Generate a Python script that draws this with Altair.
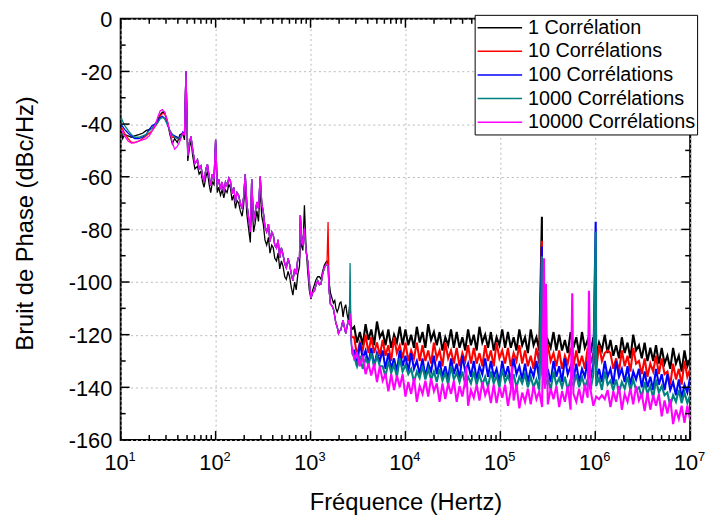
import altair as alt
import pandas as pd

names = ["1 Corrélation", "10 Corrélations", "100 Corrélations", "1000 Corrélations", "10000 Corrélations"]
colors = ["#000000", "#ff0000", "#0000ff", "#008080", "#ff00ff"]

# ---- 10 Hz .. 47 Hz ----
start_f = [10, 10.5, 11, 12, 13, 14, 15.5, 17, 18.5, 20, 21.5, 23, 24.5, 26, 27.5, 29, 31, 33, 35, 37, 39.5, 42, 45, 47]
start_black = [-40.5, -45.5, -44, -44.5, -45, -44.5, -44, -43.5, -42.5, -42, -41.5, -40, -38.5, -36.5, -35.5, -35.5, -39, -44, -47.5, -45.5, -47, -44, -43.5, -46]
start_red = [-41, -42, -43.5, -45.5, -47, -47, -46.5, -45.5, -44.5, -43.5, -42.5, -41, -39.5, -37, -36, -36, -39.5, -43, -45, -45, -45, -46, -43.5, -44]
start_blue = [-40, -41, -42, -43.5, -44.5, -45.5, -45.5, -45, -44, -42, -40.5, -40, -39, -37.5, -37, -37.8, -40, -42.5, -44, -44.5, -45, -45.5, -43, -43.5]
start_teal = [-37, -39, -40.5, -42.5, -44, -45, -45, -44.5, -44, -42.5, -41.5, -40.5, -39.5, -38, -37.5, -38, -40, -42.5, -44, -45, -45.5, -45, -44, -43.5]
start_magenta = [-42, -43, -44.5, -46.5, -47.2, -47, -46.5, -46, -45.5, -44.5, -42.5, -40.5, -37.5, -35, -34.5, -35.5, -38.5, -43, -47, -49.5, -48.5, -46.5, -43.5, -44]

# ---- 48.7 Hz .. 2.73 kHz ----
mid_f = [48.7, 50.9, 53, 55, 57.3, 60.5, 64.4, 67, 70, 73,
         75.6, 79, 82, 85.5, 88.8, 92.5, 96.2, 100, 104, 108,
         112.6, 117, 122, 127, 132, 138, 143, 149, 155, 162,
         168, 175, 182, 190, 197, 205, 213, 223, 232, 240,
         251, 260, 272, 283, 295, 306, 318, 331, 345, 360,
         374, 390, 405, 420, 438, 455, 474, 493, 513, 535,
         556, 580, 602, 627, 652, 680, 706, 735, 765, 781,
         800, 830, 862, 895, 934, 970, 1011, 1055, 1100, 1145,
         1190, 1240, 1290, 1340, 1400, 1450, 1490, 1530, 1570, 1620,
         1680, 1740, 1800, 1850, 1910, 1970, 2030, 2090, 2150, 2200,
         2270, 2350, 2420, 2500, 2560, 2610, 2670, 2730]
mid_common = [-19.8, -52, -47, -44.7, -49.7, -55, -53.5, -57, -55.9, -60,
              -62, -57, -55.3, -60, -63.4, -59, -60.9, -46, -63.4, -61,
              -64.7, -62, -65.9, -62, -63.4, -60.5, -61.5, -66.5, -64, -69.6,
              -66, -67.1, -70, -72.1, -68, -59.1, -70, -75.9, -80.9, -61,
              -77.1, -74, -69.6, -72, -59.9, -70, -73.4, -79, -80.9, -78,
              -84.6, -81, -82.1, -86, -87.1, -84, -90.8, -87, -89.6, -93,
              -94.6, -91, -93.3, -97, -99.5, -95, -97, -91, -90.8, -74.6,
              -82, -86, -79.6, -88, -92.1, -100, -106, -104, -103.3, -101,
              -99.5, -101, -100.8, -97, -94.6, -93.5, -93.3, -94, -103, -108.3,
              -109, -110.1, -113, -115.7, -117, -119.5, -118.5, -118.2, -116, -114.5,
              -117, -119.5, -117, -114.5, -116, -112, -120, -124.5]
mid_black = [-20, -54, -49, -46, -52, -57, -56, -59, -58, -62,
             -64, -60, -58, -63, -66, -62, -63, -48, -66, -64,
             -67, -65, -68, -65, -66, -63, -64, -69, -67, -72,
             -69, -70, -73, -75, -71, -63, -74, -80, -85, -66,
             -81, -78, -73, -77, -64, -75, -78, -84, -86, -83,
             -89, -86, -87, -91, -92, -89, -95, -92, -94, -98,
             -99, -96, -98, -102, -105, -100, -103, -97, -94, -84,
             -86, -88, -70.8, -86, -96, -103, -106.5, -103, -101, -99,
             -98, -98, -99, -96, -93.5, -92.5, -92, -93, -100, -104,
             -106, -108, -107, -110, -111.4, -110, -108, -107.6, -110, -113.3,
             -110, -108.6, -112, -114.5, -110, -108, -116, -118]
mid_over = {
    "10 Corrélations": {1530: -77.2, 2610: -115, 2670: -118, 2730: -121},
    "100 Corrélations": {2670: -122, 2730: -126},
    "1000 Corrélations": {2610: -92.8, 2670: -121, 2730: -127},
}

# ---- 2.9 kHz .. 10 MHz (log10 of frequency) ----
hi_exp = [3.46, 3.49, 3.52, 3.55, 3.58, 3.61, 3.64, 3.67, 3.70, 3.73,
          3.76, 3.79, 3.82, 3.85, 3.88, 3.91, 3.94, 3.97, 4.00, 4.03,
          4.06, 4.09, 4.12, 4.15, 4.18, 4.21, 4.24, 4.27, 4.30, 4.33,
          4.36, 4.39, 4.42, 4.45, 4.48, 4.51, 4.54, 4.57, 4.60, 4.63,
          4.66, 4.69, 4.72, 4.75, 4.78, 4.81, 4.84, 4.87, 4.90, 4.93,
          4.96, 4.99, 5.02, 5.05, 5.08, 5.11, 5.14, 5.17, 5.20, 5.23,
          5.26, 5.29, 5.32, 5.35, 5.38, 5.41, 5.44, 5.47, 5.50, 5.53,
          5.56, 5.59, 5.62, 5.65, 5.68, 5.71, 5.74, 5.77, 5.80, 5.83,
          5.86, 5.89, 5.92, 5.95, 5.98, 6.01, 6.04, 6.07, 6.10, 6.13,
          6.16, 6.19, 6.22, 6.25, 6.28, 6.31, 6.34, 6.37, 6.40, 6.43,
          6.46, 6.49, 6.52, 6.55, 6.58, 6.61, 6.64, 6.67, 6.70, 6.73,
          6.76, 6.79, 6.82, 6.85, 6.88, 6.91, 6.94, 6.97, 7.00]
hi_black = [-117, -123, -119, -124, -116, -122, -118, -124, -115, -121,
            -119, -124, -118, -125, -120, -123, -117, -124, -118, -124,
            -120, -125, -117, -123, -119, -125, -116, -122, -119, -124,
            -119, -126, -121, -124, -118, -125, -119, -125, -121, -126,
            -118, -124, -120, -126, -117, -123, -120, -125, -119, -126,
            -121, -124, -118, -125, -119, -125, -121, -126, -118, -124,
            -121, -127, -118, -124, -121, -126, -120, -127, -122, -125,
            -119, -126, -120, -126, -122, -127, -119, -125, -121, -127,
            -119, -125, -122, -127, -121, -128, -123, -126, -120, -127,
            -122, -128, -124, -129, -121, -127, -123, -129, -120, -126,
            -124, -129, -123, -130, -125, -130, -124, -131, -125, -131,
            -128, -133, -125, -131, -128, -134, -126, -132, -129]
hi_red = [-121, -128, -123, -126, -120, -127, -121, -127, -123, -128,
          -122, -128, -124, -130, -121, -127, -124, -129, -123, -130,
          -126, -129, -123, -130, -124, -130, -126, -131, -123, -129,
          -126, -132, -123, -129, -126, -131, -125, -132, -127, -130,
          -124, -131, -125, -131, -127, -132, -124, -130, -126, -132,
          -123, -129, -126, -131, -125, -132, -127, -130, -124, -131,
          -126, -132, -128, -133, -125, -131, -127, -133, -124, -130,
          -127, -132, -126, -133, -128, -131, -125, -132, -126, -132,
          -128, -133, -125, -131, -127, -133, -124, -130, -127, -126,
          -127, -133, -129, -134, -126, -132, -128, -134, -125, -131,
          -130, -135, -129, -136, -131, -134, -128, -135, -129, -135,
          -134, -139, -131, -137, -133, -139, -130, -136, -133]
hi_blue = [-126, -132, -123, -129, -126, -131, -125, -132, -127, -130,
           -126, -133, -127, -133, -129, -134, -126, -132, -128, -134,
           -127, -133, -130, -135, -129, -136, -131, -134, -128, -135,
           -130, -136, -132, -137, -129, -135, -131, -137, -128, -134,
           -131, -136, -130, -137, -132, -135, -129, -136, -130, -136,
           -133, -138, -130, -136, -132, -138, -129, -135, -132, -137,
           -131, -138, -133, -136, -130, -137, -131, -137, -133, -138,
           -130, -136, -132, -138, -129, -135, -132, -137, -131, -138,
           -133, -136, -130, -137, -131, -137, -133, -138, -130, -136,
           -133, -139, -130, -136, -133, -138, -132, -139, -134, -137,
           -133, -140, -134, -140, -136, -141, -133, -139, -135, -141,
           -135, -141, -138, -143, -137, -144, -139, -142, -136]
hi_teal = [-128.5, -132, -128, -133, -129, -131.5, -127, -132, -128, -132,
           -132, -136, -130, -134.5, -131.5, -136, -129, -134, -131.5, -135,
           -133, -138, -134, -136.5, -132, -137, -133, -137, -134, -138,
           -133, -137.5, -134.5, -139, -132, -137, -134.5, -138, -134, -139,
           -136, -138.5, -134, -139, -135, -139, -136, -140, -134, -138.5,
           -135.5, -140, -133, -138, -135.5, -139, -135, -140, -136, -138.5,
           -135, -140, -136, -140, -137, -141, -135, -139.5, -136.5, -141,
           -134, -139, -136.5, -140, -136, -141, -137, -139.5, -135, -140,
           -136, -140, -137, -141, -135, -139.5, -136.5, -141, -134, -139,
           -137.5, -141, -137, -142, -138, -140.5, -136, -141, -137, -141,
           -140, -144, -138, -142.5, -139.5, -144, -137, -142, -139.5, -143,
           -142, -147, -143, -145.5, -141, -146, -142, -146, -143]
hi_magenta = [-129, -127, -132, -128, -135, -131, -135.5, -131, -138, -132,
              -137.5, -135, -141.5, -135, -141, -135.5, -140, -135, -143.5, -138,
              -142.5, -136.5, -145.5, -139.5, -142.5, -137.5, -143.5, -136.5, -141.5, -138.5,
              -145.5, -138.5, -144.5, -138.5, -142.5, -137.5, -145.5, -139.5, -143.5, -137.5,
              -147, -141, -144, -139, -145, -138, -143, -140, -146, -139,
              -146, -140, -144, -139, -147, -141, -145, -139, -148, -142,
              -145.5, -140.5, -146.5, -139.5, -144.5, -141.5, -147.5, -140.5, -146.5, -140.5,
              -144.5, -139.5, -147.5, -141.5, -145.5, -139.5, -148.5, -142.5, -145.5, -140.5,
              -146, -139, -144, -141, -147, -143.5, -144.5, -143, -144.5, -141,
              -147.5, -141.5, -145.5, -139.5, -148.5, -142.5, -145.5, -140.5, -146.5, -139.5,
              -145, -142.5, -149, -142, -148.5, -143, -147, -142.5, -151, -145,
              -150, -144.5, -154, -148.5, -152, -147, -153.5, -147, -152.5]

# ---- narrow spurs (Hz, dBc/Hz) ----
spikes = {
    "1 Corrélation": [(274000, -75.2)],
    "10 Corrélations": [(274000, -84.3)],
    "100 Corrélations": [(274000, -86.5), (1010000, -77.1)],
    "1000 Corrélations": [(274000, -90.2), (1010000, -80.9)],
    "10000 Corrélations": [(43600, -132), (132000, -132), (288000, -91), (302000, -100.7),
                           (572000, -104.3), (858000, -103.3)],
}

starts = dict(zip(names, [start_black, start_red, start_blue, start_teal, start_magenta]))
mids = dict(zip(names, [mid_black, mid_common, mid_common, mid_common, mid_common]))
his = dict(zip(names, [hi_black, hi_red, hi_blue, hi_teal, hi_magenta]))

lo_rows, hi_rows = [], []
for name in names:
    over = mid_over.get(name, {})
    lo = list(zip(start_f, starts[name]))
    lo += [(f, over.get(f, v)) for f, v in zip(mid_f, mids[name])]
    hi = [lo[-1]] + [(10 ** e, v) for e, v in zip(hi_exp, his[name])] + spikes.get(name, [])
    hi.sort()
    lo_rows += [{"f": f, "v": v, "s": name} for f, v in lo]
    hi_rows += [{"f": f, "v": v, "s": name} for f, v in hi]
df_lo = pd.DataFrame(lo_rows)
df_hi = pd.DataFrame(hi_rows)

# axis tick values
y_major = [-160, -140, -120, -100, -80, -60, -40, -20, 0]
y_minor = [-150, -130, -110, -90, -70, -50, -30, -10]
x_major = [10, 100, 1000, 10000, 100000, 1000000, 10000000]
x_minor = [m * d for d in [10, 100, 1000, 10000, 100000, 1000000] for m in range(2, 10)]
x_exp = ["1", "2", "3", "4", "5", "6", "7"]

W, H = 576, 426
FONT = "Liberation Sans"
xs = alt.Scale(type="log", domain=[10, 1e7], nice=False)
ys = alt.Scale(domain=[-160, 0], nice=False, zero=False)

xaxis = alt.Axis(values=x_major, labels=False, ticks=False, domain=False, grid=True,
                 gridColor="#b8b8b8", gridDash=[2, 3], gridWidth=1,
                 title="Fréquence (Hertz)", titleFont=FONT, titleFontSize=24,
                 titleFontWeight="normal", titleColor="black", titleX=W / 2, titleY=70,
                 titleAlign="center", titleBaseline="alphabetic")
yaxis = alt.Axis(values=y_major, labelExpr="'' + datum.value", ticks=False, domain=False,
                 labelPadding=9, labelOffset=1, labelFont=FONT, labelFontSize=22, labelColor="black",
                 grid=True, gridColor="#b8b8b8", gridDash=[2, 3], gridWidth=1,
                 title="Bruit de Phase (dBc/Hz)", titleFont=FONT, titleFontSize=24,
                 titleFontWeight="normal", titleColor="black", titleAngle=270,
                 titleAlign="center", titleBaseline="alphabetic", titleX=-89, titleY=206.5)

color = alt.Color("s:N", scale=alt.Scale(domain=names, range=colors),
                  legend=alt.Legend(title=None, orient="none", legendX=358, legendY=-4,
                                    symbolType="M-1,0H3.5", symbolSize=400, symbolStrokeWidth=1.5,
                                    labelFont=FONT, labelFontSize=20, labelColor="black",
                                    labelOffset=30, labelLimit=400, rowPadding=2.9, padding=2,
                                    strokeColor="black", fillColor="white"))

X = alt.X("f:Q", scale=xs, axis=xaxis)
Y = alt.Y("v:Q", scale=ys, axis=yaxis)
layers = []
for name in names:
    layers.append(alt.Chart(df_lo[df_lo.s == name]).mark_line(strokeWidth=1.3, clip=True)
                  .encode(x=X, y=Y, color=color))
    layers.append(alt.Chart(df_hi[df_hi.s == name]).mark_line(strokeWidth=2.1, clip=True)
                  .encode(x=X, y=Y, color=color))

ymaj = pd.DataFrame({"t": y_major})
ymin = pd.DataFrame({"t": y_minor})
xmaj = pd.DataFrame({"t": x_major})
xmin = pd.DataFrame({"t": x_minor})


def yticks(d, x1, x2):
    return alt.Chart(d).mark_rule(color="black", strokeWidth=1.5).encode(
        y=alt.Y("t:Q", scale=ys, axis=yaxis), x=alt.value(x1), x2=alt.value(x2))


def xticks(d, y1, y2):
    return alt.Chart(d).mark_rule(color="black", strokeWidth=1.5).encode(
        x=alt.X("t:Q", scale=xs, axis=xaxis), y=alt.value(y1), y2=alt.value(y2))


layers += [
    yticks(ymaj, 0, 9), yticks(ymin, 0, 5), yticks(ymaj, W - 9, W), yticks(ymin, W - 5, W),
    xticks(xmaj, H - 9, H), xticks(xmin, H - 5, H), xticks(xmaj, 0, 9), xticks(xmin, 0, 5),
]

lab = pd.DataFrame({"t": x_major, "e": x_exp})
layers.append(
    alt.Chart(lab).mark_text(font=FONT, fontSize=22, color="black", align="right",
                             baseline="alphabetic", dx=8).encode(
        x=alt.X("t:Q", scale=xs, axis=xaxis), y=alt.value(H + 30.5), text=alt.value("10"))
)
layers.append(
    alt.Chart(lab).mark_text(font=FONT, fontSize=13, color="black", align="left",
                             baseline="alphabetic", dx=8).encode(
        x=alt.X("t:Q", scale=xs, axis=xaxis), y=alt.value(H + 21.5), text="e:N")
)

chart = alt.layer(*layers).properties(
    width=W, height=H,
    autosize=alt.AutoSizeParams(type="none"),
    padding={"left": 114, "top": 8, "right": 16, "bottom": 75},
).configure_view(stroke="black", strokeWidth=2)

chart.save("out.html", embed_options={"renderer": "svg", "actions": False})
